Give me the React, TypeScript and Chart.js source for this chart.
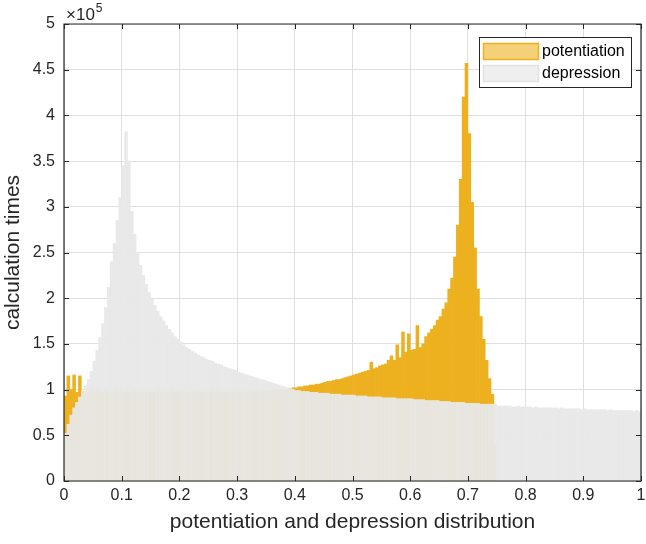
import React, { useEffect, useRef } from 'react';
import { Chart, registerables } from 'chart.js';

Chart.register(...registerables);

// ---------- data (counts in units of 10^5) ----------
const BIN_WIDTH = 0.005;
const BIN_COUNT = 200;
const binCenters: number[] = Array.from({ length: BIN_COUNT }, (_, i) => +(BIN_WIDTH * (i + 0.5)).toFixed(4));

const xTickValues = [0, 0.1, 0.2, 0.3, 0.4, 0.5, 0.6, 0.7, 0.8, 0.9, 1];
const yTickValues = [0, 0.5, 1, 1.5, 2, 2.5, 3, 3.5, 4, 4.5, 5];

const seriesLabels = ['potentiation', 'depression'];
const xAxisTitle = 'potentiation and depression distribution';
const yAxisTitle = 'calculation times';

const potentiation: number[] = [
  0.93, 1.15, 1.00, 1.16, 0.97, 1.15, 0.98, 0.97, 0.97, 0.98,
  0.97, 0.98, 0.97, 0.97, 0.98, 0.97, 0.97, 0.98, 0.97, 0.97,
  0.97, 0.98, 0.97, 0.97, 0.98, 0.97, 0.98, 0.97, 0.97, 0.98,
  0.97, 0.97, 0.98, 0.97, 0.98, 0.97, 0.97, 0.98, 0.97, 0.98,
  0.97, 0.98, 0.97, 0.97, 0.98, 0.97, 0.98, 0.97, 0.97, 0.98,
  0.97, 0.98, 0.97, 0.98, 0.97, 0.97, 0.98, 0.97, 0.98, 0.97,
  0.98, 0.97, 0.98, 0.97, 0.98, 0.98, 0.97, 0.98, 0.98, 0.98,
  0.98, 0.98, 0.99, 0.98, 0.99, 0.99, 0.99, 1.00, 1.01, 1.02,
  1.02, 1.03, 1.03, 1.04, 1.04, 1.05, 1.05, 1.06, 1.06, 1.07,
  1.08, 1.09, 1.09, 1.10, 1.11, 1.11, 1.12, 1.13, 1.14, 1.15,
  1.16, 1.17, 1.18, 1.19, 1.20, 1.21, 1.30, 1.23, 1.24, 1.26,
  1.27, 1.28, 1.32, 1.37, 1.32, 1.49, 1.35, 1.63, 1.41, 1.61,
  1.43, 1.44, 1.70, 1.46, 1.50, 1.58, 1.62, 1.66, 1.70, 1.76,
  1.80, 1.88, 1.95, 2.10, 2.22, 2.45, 2.80, 3.30, 4.20, 4.57,
  3.80, 3.05, 2.55, 2.10, 1.80, 1.55, 1.32, 1.12, 0.95, 0.40,
  0, 0, 0, 0, 0, 0, 0, 0, 0, 0,
  0, 0, 0, 0, 0, 0, 0, 0, 0, 0,
  0, 0, 0, 0, 0, 0, 0, 0, 0, 0,
  0, 0, 0, 0, 0, 0, 0, 0, 0, 0,
  0, 0, 0, 0, 0, 0, 0, 0, 0, 0,
];

const depression: number[] = [
  0.52, 0.62, 0.72, 0.80, 0.86, 0.92, 0.98, 1.04, 1.11, 1.20,
  1.31, 1.43, 1.57, 1.72, 1.90, 2.12, 2.40, 2.60, 2.85, 3.10,
  3.45, 3.82, 3.50, 2.95, 2.70, 2.50, 2.36, 2.25, 2.15, 2.06,
  1.99, 1.92, 1.86, 1.80, 1.75, 1.70, 1.66, 1.62, 1.58, 1.55,
  1.52, 1.49, 1.46, 1.44, 1.42, 1.40, 1.38, 1.36, 1.35, 1.33,
  1.32, 1.31, 1.29, 1.28, 1.27, 1.25, 1.24, 1.23, 1.22, 1.21,
  1.19, 1.18, 1.17, 1.16, 1.15, 1.14, 1.13, 1.12, 1.11, 1.10,
  1.09, 1.08, 1.07, 1.06, 1.05, 1.04, 1.03, 1.02, 1.01, 1.00,
  0.99, 0.99, 0.98, 0.98, 0.98, 0.97, 0.97, 0.97, 0.96, 0.96,
  0.96, 0.96, 0.95, 0.95, 0.95, 0.95, 0.94, 0.94, 0.94, 0.94,
  0.94, 0.93, 0.93, 0.93, 0.93, 0.92, 0.92, 0.92, 0.92, 0.92,
  0.91, 0.91, 0.91, 0.91, 0.91, 0.90, 0.90, 0.90, 0.90, 0.90,
  0.90, 0.89, 0.89, 0.89, 0.89, 0.88, 0.88, 0.88, 0.88, 0.88,
  0.87, 0.87, 0.87, 0.87, 0.86, 0.86, 0.86, 0.86, 0.86, 0.85,
  0.85, 0.85, 0.85, 0.85, 0.84, 0.84, 0.84, 0.84, 0.84, 0.84,
  0.82, 0.82, 0.82, 0.82, 0.82, 0.81, 0.81, 0.82, 0.81, 0.81,
  0.81, 0.81, 0.80, 0.81, 0.80, 0.80, 0.80, 0.80, 0.80, 0.80,
  0.80, 0.79, 0.80, 0.79, 0.79, 0.79, 0.79, 0.79, 0.79, 0.78,
  0.79, 0.78, 0.78, 0.78, 0.78, 0.78, 0.78, 0.78, 0.77, 0.78,
  0.77, 0.77, 0.77, 0.77, 0.77, 0.77, 0.77, 0.76, 0.77, 0.76,
];

// ---------- styles ----------
const FONT = "'Liberation Sans', Arial, Helvetica, sans-serif";
const AXIS_COLOR = '#262626';
const POT_COLOR = '#EDB120';
const DEP_COLOR = 'rgba(232,232,232,0.95)';

const fmt = (v: number) => String(Number(v.toFixed(2)));

const framePlugin = {
  id: 'matlabFrame',
  afterDraw(chart: any) {
    const { ctx, chartArea } = chart;
    const { left, right, top, bottom } = chartArea;
    const xs = chart.scales.x;
    const ys = chart.scales.y;
    ctx.save();
    // box
    ctx.strokeStyle = AXIS_COLOR;
    ctx.lineWidth = 1.2;
    ctx.beginPath();
    ctx.rect(left, top, right - left, bottom - top);
    ctx.stroke();
    // inward ticks
    ctx.lineWidth = 1;
    const TL = 5;
    ctx.beginPath();
    xTickValues.forEach((v) => {
      const px = Math.round(xs.getPixelForValue(v)) + 0.5;
      ctx.moveTo(px, bottom);
      ctx.lineTo(px, bottom - TL);
      ctx.moveTo(px, top);
      ctx.lineTo(px, top + TL);
    });
    yTickValues.forEach((v) => {
      const py = Math.round(ys.getPixelForValue(v)) + 0.5;
      ctx.moveTo(left, py);
      ctx.lineTo(left + TL, py);
      ctx.moveTo(right, py);
      ctx.lineTo(right - TL, py);
    });
    ctx.stroke();

    // exponent label x10^5
    ctx.fillStyle = AXIS_COLOR;
    ctx.textBaseline = 'alphabetic';
    ctx.textAlign = 'left';
    ctx.font = `17px ${FONT}`;
    const base = '\u00d710';
    ctx.fillText(base, left + 2, top - 4);
    const w = ctx.measureText(base).width;
    ctx.font = `12px ${FONT}`;
    ctx.fillText('5', left + 2 + w + 1, top - 12);

    // legend
    const lx = right - 162;
    const ly = top + 13;
    const lw = 152;
    const lh = 50;
    ctx.fillStyle = '#ffffff';
    ctx.fillRect(lx, ly, lw, lh);
    ctx.strokeStyle = AXIS_COLOR;
    ctx.lineWidth = 1;
    ctx.strokeRect(lx + 0.5, ly + 0.5, lw, lh);
    const swatchFill = ['#F4D079', '#EFEFEF'];
    const swatchEdge = [POT_COLOR, '#E3E3E3'];
    seriesLabels.forEach((label, i) => {
      const sy = ly + 6 + i * 22;
      ctx.fillStyle = swatchFill[i];
      ctx.fillRect(lx + 4.5, sy + 0.5, 55, 16);
      ctx.strokeStyle = swatchEdge[i];
      ctx.lineWidth = 1.5;
      ctx.strokeRect(lx + 4.5, sy + 0.5, 55, 16);
      ctx.fillStyle = '#000000';
      ctx.font = `16px ${FONT}`;
      ctx.textBaseline = 'middle';
      ctx.fillText(label, lx + 63, sy + 9);
    });
    ctx.restore();
  },
};

export default function App() {
  const ref = useRef<HTMLCanvasElement>(null);
  useEffect(() => {
    document.body.style.margin = '0';
    const chart = new Chart(ref.current as HTMLCanvasElement, {
      type: 'bar',
      data: {
        labels: binCenters,
        datasets: [
          {
            label: seriesLabels[0],
            data: potentiation,
            backgroundColor: POT_COLOR,
            borderWidth: 0,
            barPercentage: 1,
            categoryPercentage: 1,
            grouped: false,
            order: 2,
          },
          {
            label: seriesLabels[1],
            data: depression,
            backgroundColor: DEP_COLOR,
            borderWidth: 0,
            barPercentage: 1,
            categoryPercentage: 1,
            grouped: false,
            order: 1,
          },
        ],
      } as any,
      options: {
        responsive: false,
        animation: false,
        layout: { padding: { top: 24, right: 5, left: 0, bottom: 0 } },
        plugins: { legend: { display: false }, tooltip: { enabled: false } },
        scales: {
          x: {
            type: 'linear',
            min: 0,
            max: 1,
            offset: false,
            grid: { offset: false, color: '#dfdfdf', drawTicks: false },
            border: { display: false },
            ticks: {
              color: AXIS_COLOR,
              font: { family: FONT, size: 16 },
              padding: 5,
              maxRotation: 0,
              autoSkip: false,
              callback: (v: any) => fmt(Number(v)),
            },
            afterBuildTicks: (s: any) => {
              s.ticks = xTickValues.map((v) => ({ value: v }));
            },
            afterFit: (s: any) => {
              s.height = 63;
              s.paddingLeft = 0;
              s.paddingRight = 0;
            },
            title: {
              display: true,
              text: xAxisTitle,
              color: AXIS_COLOR,
              font: { family: FONT, size: 21 },
              padding: { top: 0, bottom: 9 },
            },
          },
          y: {
            type: 'linear',
            min: 0,
            max: 5,
            grid: { color: '#dfdfdf', drawTicks: false },
            border: { display: false },
            ticks: {
              color: AXIS_COLOR,
              font: { family: FONT, size: 16 },
              padding: 9,
              callback: (v: any) => fmt(Number(v)),
            },
            afterBuildTicks: (s: any) => {
              s.ticks = yTickValues.map((v) => ({ value: v }));
            },
            afterFit: (s: any) => {
              s.width = 64;
              s.paddingTop = 0;
              s.paddingBottom = 0;
            },
            title: {
              display: true,
              text: yAxisTitle,
              color: AXIS_COLOR,
              font: { family: FONT, size: 21 },
              padding: { top: 1, bottom: 0 },
            },
          },
        },
      } as any,
      plugins: [framePlugin],
    });
    return () => chart.destroy();
  }, []);
  return (
    <div style={{ width: 646, height: 544, background: '#ffffff' }}>
      <canvas ref={ref} width={646} height={544} style={{ display: 'block' }} />
    </div>
  );
}
